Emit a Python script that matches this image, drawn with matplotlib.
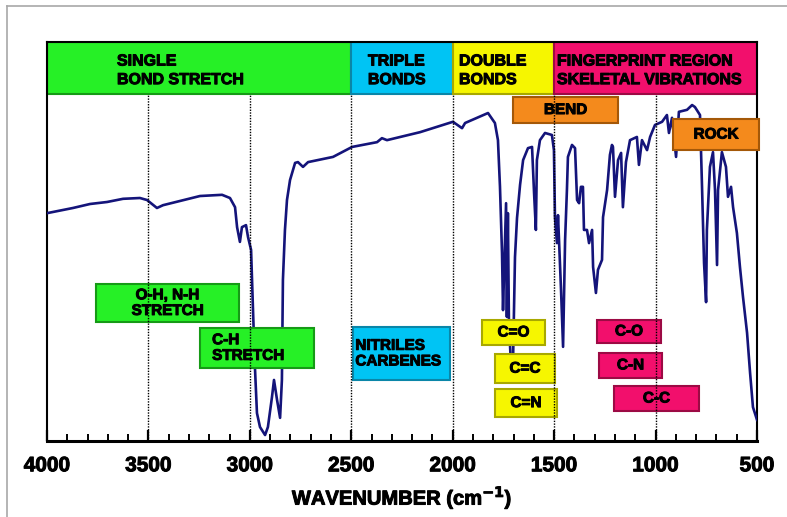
import matplotlib
matplotlib.use("Agg")
import matplotlib.pyplot as plt
import matplotlib.patheffects as pe
from matplotlib.patches import Rectangle
from matplotlib.lines import Line2D

plt.rcParams['font.family'] = ['Liberation Sans', 'DejaVu Sans']
plt.rcParams['font.weight'] = 'bold'

# ---------------------------------------------------------------------------
# spectrum (wavenumber in cm-1, transmittance in %)
# ---------------------------------------------------------------------------
wavenumber = [4000, 3872, 3788, 3704, 3625, 3542, 3507, 3458, 3428, 3246,
              3137, 3098, 3073, 3063, 3049, 3039, 3019, 3009, 2994, 2989,
              2984, 2975, 2965, 2950, 2925, 2911, 2891, 2881, 2866, 2851,
              2842, 2837, 2827, 2817, 2802, 2777, 2763, 2738, 2713, 2590,
              2496, 2373, 2349, 2324, 2161, 1999, 1954, 1939, 1826, 1792,
              1777, 1767, 1757, 1752, 1737, 1733, 1728, 1723, 1713, 1703,
              1693, 1683, 1668, 1653, 1629, 1609, 1599, 1590, 1585, 1570,
              1545, 1511, 1501, 1496, 1486, 1481, 1466, 1456, 1446, 1437,
              1432, 1412, 1397, 1387, 1377, 1368, 1358, 1353, 1338, 1328,
              1313, 1308, 1294, 1284, 1264, 1259, 1239, 1225, 1215, 1210,
              1200, 1185, 1170, 1161, 1146, 1126, 1092, 1082, 1067, 1042,
              1027, 1003, 968, 944, 934, 919, 899, 885, 845, 820,
              806, 781, 771, 761, 751, 747, 732, 717, 707, 697,
              692, 673, 653, 643, 628, 618, 599, 584, 569, 549,
              534, 520, 500]
transmittance = [57.1, 58.4, 59.4, 59.9, 60.7, 60.9, 60.4, 58.4, 59.1, 61.4,
                 61.7, 60.9, 58.6, 53.6, 49.9, 53.6, 54.1, 51.1, 47.9, 40.4,
                 32.1, 18.5, 7.0, 3.5, 1.5, 3.5, 11.0, 15.3, 10.3, 5.8,
                 15.3, 40.4, 52.9, 60.4, 65.4, 69.7, 69.9, 68.7, 69.9, 71.2,
                 73.7, 74.9, 75.9, 75.4, 77.4, 80.0, 78.4, 79.7, 82.2, 79.7,
                 75.4, 63.7, 47.1, 32.8, 59.6, 31.1, 57.1, 30.3, 19.0, 19.0,
                 46.1, 55.9, 64.2, 70.4, 73.4, 73.7, 62.2, 52.9, 70.4, 75.4,
                 77.2, 76.7, 72.9, 56.1, 49.6, 56.6, 37.8, 23.6, 50.4, 62.9,
                 71.2, 74.2, 73.4, 60.4, 59.6, 63.7, 63.7, 52.9, 52.9, 49.6,
                 52.9, 43.6, 37.1, 42.9, 45.4, 56.1, 62.9, 71.7, 74.2, 73.7,
                 61.2, 70.4, 72.2, 58.6, 69.9, 75.4, 76.2, 69.2, 75.4, 72.9,
                 76.2, 79.2, 80.0, 81.7, 77.2, 81.0, 71.2, 82.5, 83.0, 84.2,
                 83.7, 81.7, 63.7, 44.6, 34.8, 52.9, 68.7, 72.4, 62.9, 44.1,
                 62.9, 72.4, 68.7, 61.2, 63.7, 58.6, 52.1, 43.6, 36.1, 27.1,
                 17.0, 8.5, 5.3]

# header regions
region_edges = [4000, 2500, 2000, 1500, 500]
region_labels = ['SINGLE\nBOND STRETCH', 'TRIPLE\nBONDS', 'DOUBLE\nBONDS',
                 'FINGERPRINT REGION\nSKELETAL VIBRATIONS']
region_colors = ['#26f026', '#00c4f4', '#f6f600', '#f20f6c']
region_edgecolors = ['#169a16', '#0a86a8', '#a8a800', '#9c0a44']

major_ticks = [4000, 3500, 3000, 2500, 2000, 1500, 1000, 500]

# thin black outline makes the lettering look heavier, like the original
heavy = [pe.withStroke(linewidth=0.7, foreground='black')]

# =============================================================================
fig = plt.figure(figsize=(7.87, 5.17), dpi=100)
ax = fig.add_axes([47 / 787, 76 / 517, 710 / 787, 399 / 517])

ax.set_xlim(4000, 500)
ax.set_ylim(0, 100)

# grey outer frame of the picture (top and left only are visible)
fig.add_artist(Line2D([7 / 787, 7 / 787], [0, 1 - 6 / 517], transform=fig.transFigure,
                      color='#a8a8a8', lw=1.2))
fig.add_artist(Line2D([7 / 787, 1], [1 - 6 / 517, 1 - 6 / 517], transform=fig.transFigure,
                      color='#a8a8a8', lw=1.2))

# coloured header band
head_lo = 87
label_x = [3655, 2418, 1969, 1486]
for i in range(len(region_labels)):
    x0, x1 = region_edges[i], region_edges[i + 1]
    ax.add_patch(Rectangle((x1, head_lo), x0 - x1, 100 - head_lo,
                           facecolor=region_colors[i], edgecolor=region_edgecolors[i],
                           lw=1.5, zorder=2))
    ax.text(label_x[i], 92.9, region_labels[i], ha='left', va='center',
            fontsize=11.5, fontweight='bold', linespacing=1.3, zorder=5,
            path_effects=heavy)

# dotted guide lines
for w in major_ticks[1:-1]:
    ax.plot([w, w], [0, head_lo], color='black', lw=1.0, ls=(0, (1, 1)), zorder=6)

# spectrum
ax.plot(wavenumber, transmittance, color='#14147a', lw=1.9, zorder=3)


def label_box(x0, x1, y0, y1, text, face, edge, ha='center', clip=True):
    ax.add_patch(Rectangle((x1, y0), x0 - x1, y1 - y0, facecolor=face,
                           edgecolor=edge, lw=1.5, zorder=4, clip_on=clip))
    if ha == 'center':
        tx = (x0 + x1) / 2
    else:
        tx = x0 - 60
    ax.text(tx, (y0 + y1) / 2, text, ha=ha, va='center', fontsize=11,
            fontweight='bold', linespacing=1.15, zorder=5, clip_on=False,
            path_effects=heavy)


green, green_e = '#26f026', '#169a16'
orange, orange_e = '#f48a1c', '#a45808'
yellow, yellow_e = '#f6f600', '#a8a800'
pink, pink_e = '#f20f6c', '#9c0a44'
cyan, cyan_e = '#00c4f4', '#0a86a8'

label_box(1703, 1185, 79.7, 86.2, 'BEND', orange, orange_e)
label_box(914, 490, 72.9, 80.7, 'ROCK', orange, orange_e, clip=False)
label_box(3758, 3054, 29.8, 39.3, 'O-H, N-H\nSTRETCH', green, green_e)
label_box(3246, 2684, 18.3, 28.3, 'C-H\nSTRETCH', green, green_e, ha='left')
ax.add_patch(Rectangle((2013, 15.3), 2492 - 2013, 28.6 - 15.3, facecolor=cyan,
                       edgecolor=cyan_e, lw=1.5, zorder=4))
ax.text(2480, 21.9, 'NITRILES\nCARBENES', ha='left', va='center', fontsize=11,
        fontweight='bold', linespacing=1.15, zorder=5, path_effects=heavy)
label_box(1856, 1545, 24.1, 30.3, 'C=O', yellow, yellow_e)
label_box(1792, 1496, 14.5, 21.8, 'C=C', yellow, yellow_e)
label_box(1792, 1486, 6.0, 13.0, 'C=N', yellow, yellow_e)
label_box(1289, 973, 24.6, 30.3, 'C-O', pink, pink_e)
label_box(1279, 968, 15.8, 22.1, 'C-N', pink, pink_e)
label_box(1205, 786, 7.5, 13.8, 'C-C', pink, pink_e)

# axes styling
for side in ['left', 'right', 'top']:
    ax.spines[side].set_linewidth(1.5)
ax.spines['bottom'].set_linewidth(2.2)
ax.set_yticks([])
ax.set_xticks(major_ticks)
ax.set_xticks(range(500, 4001, 100), minor=True)
ax.tick_params(axis='x', which='major', direction='in', length=8, width=1.6,
               labelsize=15, pad=11)
ax.tick_params(axis='x', which='minor', direction='in', length=5, width=1.4)
for lab in ax.get_xticklabels():
    lab.set_fontweight('bold')
    lab.set_path_effects(heavy)
ax.set_xlabel(r'WAVENUMBER (cm$^{\mathbf{-1}}$)', fontsize=14.5, fontweight='bold',
              labelpad=7, path_effects=heavy)

fig.savefig('out.png', dpi=100)
